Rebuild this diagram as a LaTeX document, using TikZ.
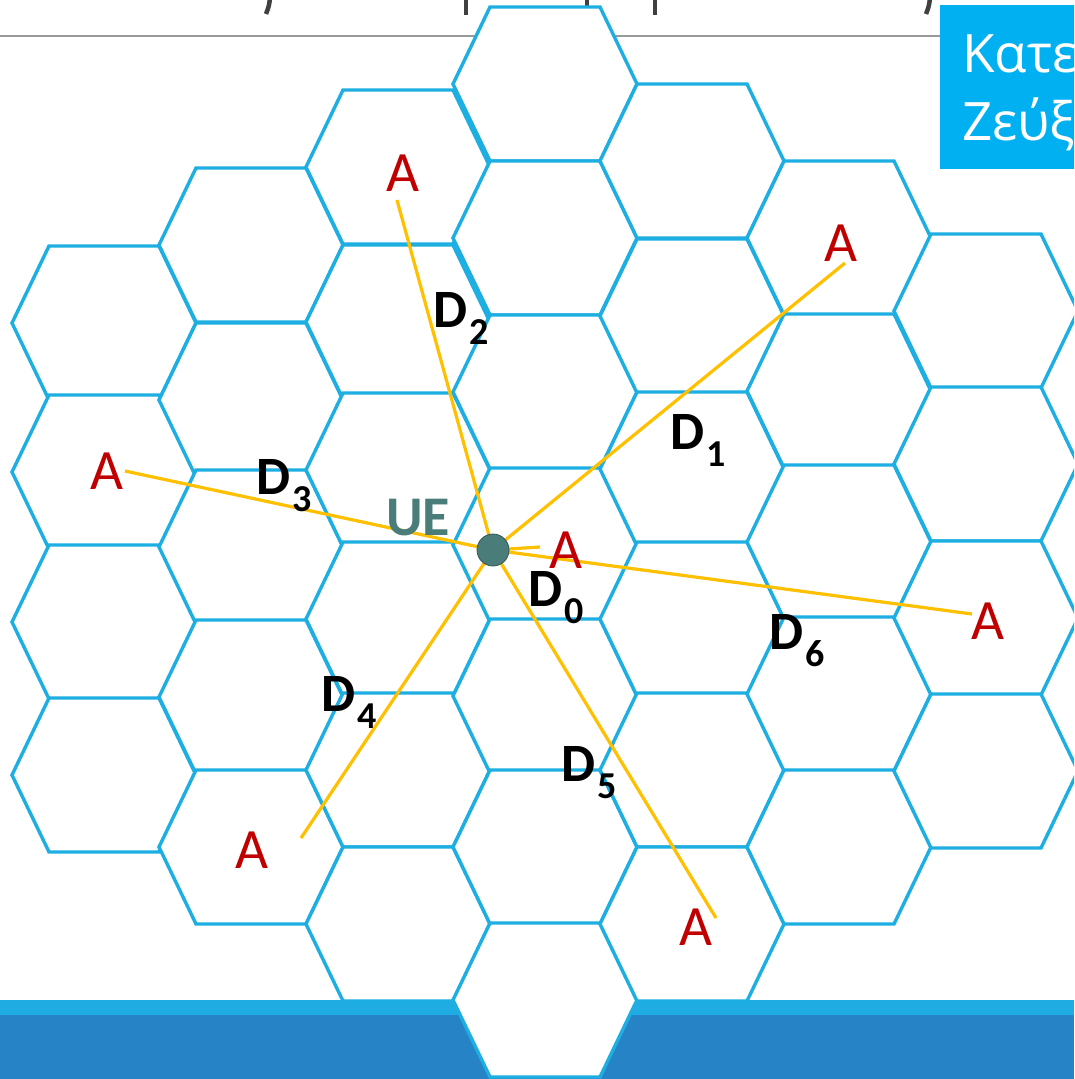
\documentclass[tikz,border=0pt]{standalone}
\usepackage{fontspec}
\setmainfont{Carlito}
\newfontfamily\boxfont{Open Sans}
\definecolor{hexblue}{RGB}{29,174,226}
\definecolor{rayyellow}{RGB}{255,192,0}
\definecolor{ared}{RGB}{192,0,0}
\definecolor{uteal}{RGB}{74,124,121}
\definecolor{boxblue}{RGB}{0,176,240}
\definecolor{bandlight}{RGB}{31,172,227}
\definecolor{banddark}{RGB}{38,132,198}
\definecolor{titlegray}{RGB}{64,64,64}
\newcommand\dlab[1]{\textbf{D}\kern2pt\raisebox{-17pt}{\fontsize{38}{38}\selectfont\textbf{#1}}}
\begin{document}
\begin{tikzpicture}[x=1pt,y=-1pt,
  hexline/.style={draw=hexblue,line width=3.4pt,fill=white,line join=miter},
  ray/.style={draw=rayyellow,line width=3.2pt},
  alabel/.style={text=ared,font=\fontsize{57}{57}\selectfont,inner sep=0pt,anchor=base},
  dlabel/.style={text=black,font=\fontsize{54}{54}\selectfont,inner sep=0pt,anchor=base west},
  hexcell/.pic={\path[hexline] (-92,0)--(-55,-77)--(55,-77)--(92,0)--(55,77)--(-55,77)--cycle;}]
\useasboundingbox (0,0) rectangle (1074,1079);
\clip (0,0) rectangle (1074,1079);
% bottom band
\fill[bandlight] (0,1000) rectangle (1074,1015);
\fill[banddark] (0,1015) rectangle (1074,1079);
% title rule and glyph fragments
\draw[color=gray!80,line width=1.5pt] (0,36) -- (940,36);
\begin{scope}[titlegray,line width=4.5pt]
\draw (270,-2) .. controls (269,6) .. (266,14);
\draw (466,-2) -- (466,15);
\draw (587,-2) -- (587,8);
\draw (655,-2) -- (655,15);
\draw (930,-2) .. controls (929,6) .. (926,14);
\end{scope}
% hex grid
\foreach \yy in {323,472,622,775} \pic at (104,\yy) {hexcell};
\foreach \yy in {245,400,547,697,847} \pic at (251,\yy) {hexcell};
\foreach \yy in {167,322,470,619,770,924} \pic at (398,\yy) {hexcell};
\foreach \yy in {84,238,392,545,696,847,1000} \pic at (545,\yy) {hexcell};
\foreach \yy in {161,316,469,619,770,924} \pic at (692,\yy) {hexcell};
\foreach \yy in {238,391,542,694,847} \pic at (839,\yy) {hexcell};
\foreach \yy in {311,464,618,771} \pic at (986,\yy) {hexcell};
% ray end points
\coordinate (e0) at (540,547);
\coordinate (e1) at (397,200);
\coordinate (e2) at (845,263);
\coordinate (e3) at (125,471);
\coordinate (e4) at (972,614);
\coordinate (e5) at (301,838);
\coordinate (e6) at (716,918);
\coordinate (uec) at (493,550);
\foreach \e in {e0,e1,e2,e3,e4,e5,e6} \draw[ray] (uec) -- (\e);
% UE
\node[circle,fill=uteal,draw=uteal!70!black,line width=0.8pt,minimum size=32pt,inner sep=0pt] (ue) at (uec) {};
\node[text=uteal,font=\bfseries\fontsize{56}{56}\selectfont,inner sep=0pt,anchor=base west] (uelab) at (386,535) {UE};
% A labels
\node[alabel] (a0) at (566,568) {A};
\node[alabel] (a1) at (403,191) {A};
\node[alabel] (a2) at (841,261) {A};
\node[alabel] (a3) at (107,489) {A};
\node[alabel] (a4) at (988,639) {A};
\node[alabel] (a5) at (252,868) {A};
\node[alabel] (a6) at (696,945) {A};
% D labels
\node[dlabel] (d0) at (528,606) {\dlab{0}};
\node[dlabel] (d1) at (670,449) {\dlab{1}};
\node[dlabel] (d2) at (433,327) {\dlab{2}};
\node[dlabel] (d3) at (256,494) {\dlab{3}};
\node[dlabel] (d4) at (321,711) {\dlab{4}};
\node[dlabel] (d5) at (561,781) {\dlab{5}};
\node[dlabel] (d6) at (769,649) {\dlab{6}};
% title box
\fill[boxblue] (940,5) rectangle (1080,169);
\begin{scope}
\clip (940,5) rectangle (1074,169);
\node[text=white,font=\boxfont\fontsize{53}{53}\selectfont,inner sep=0pt,anchor=base west] (box1) at (962,72) {Κατερχόμενη};
\node[text=white,font=\boxfont\fontsize{53}{53}\selectfont,inner sep=0pt,anchor=base west] (box2) at (962,140) {Ζεύξη};
\end{scope}
\end{tikzpicture}
\end{document}
